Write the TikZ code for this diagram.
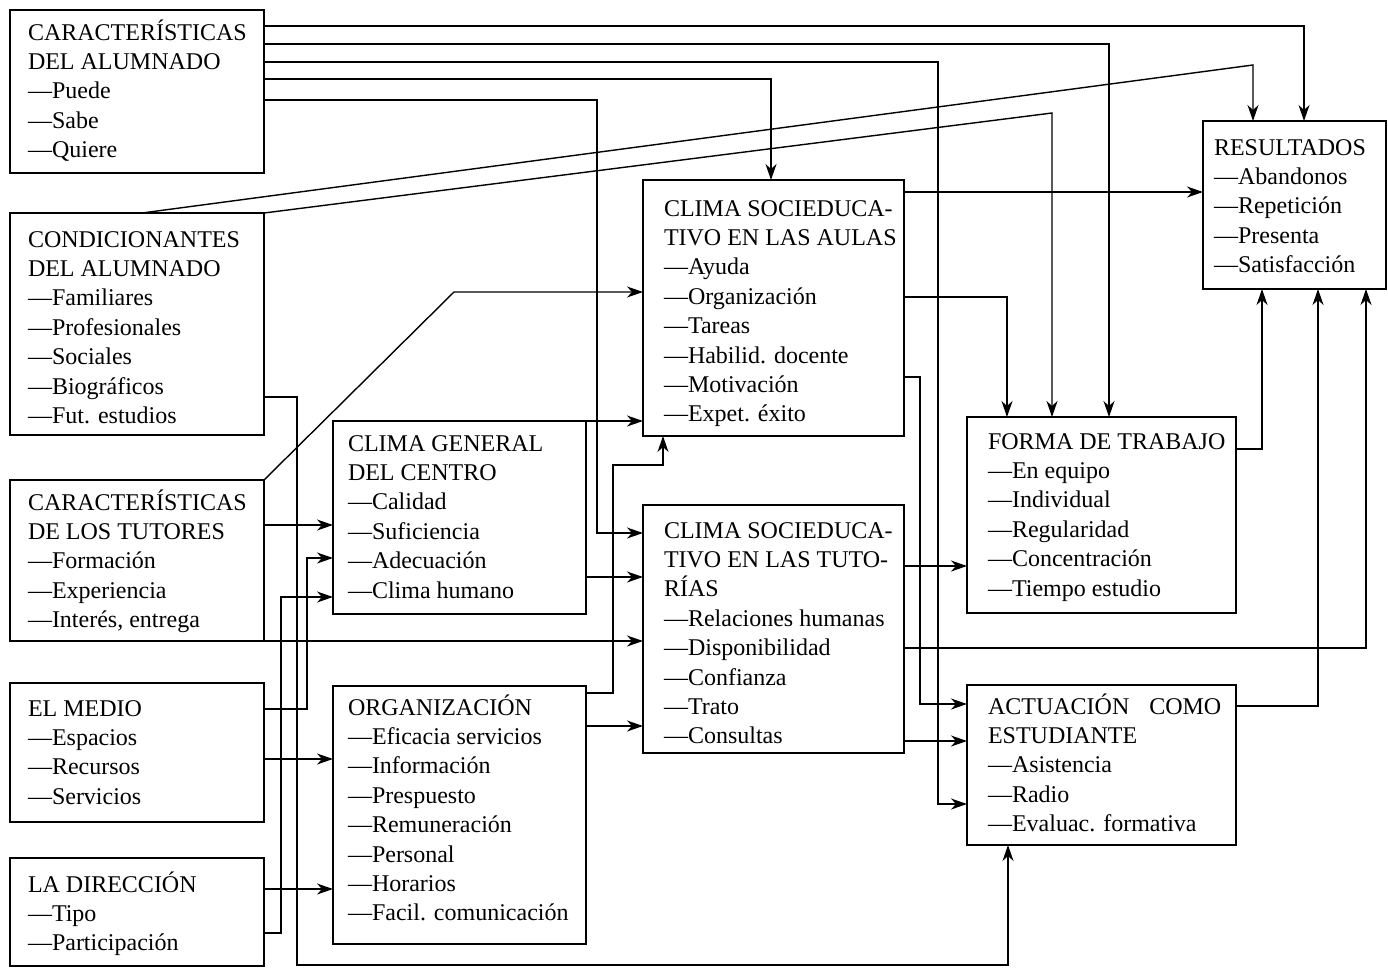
\documentclass[tikz,border=0pt]{standalone}
\usepackage{fontspec}
\setmainfont{Liberation Serif}
\usetikzlibrary{arrows.meta}
\newcommand\boxtext[1]{\vtop{\baselineskip=29.4bp\lineskiplimit=-1000bp\lineskip=0bp\halign{##\hfil\cr#1\crcr}}}
\begin{document}
\begin{tikzpicture}[x=1bp,y=-1bp,
  box/.style={draw,line width=2.7bp,inner sep=0pt,outer sep=0pt,anchor=north west},
  txt/.style={inner sep=0pt,outer sep=0pt,anchor=base west,font=\fontsize{24bp}{29.4bp}\selectfont},
  conn/.style={line width=1.4bp},
  arr/.style={conn,-{Stealth[length=16bp,width=11bp,inset=5bp]}}]
\useasboundingbox[fill=white] (0,0) rectangle (1388,967);
% boxes
\node[box,minimum width=254bp,minimum height=163bp] (ca) at (10,10) {};
\node[box,minimum width=254bp,minimum height=222bp] (co) at (10,213) {};
\node[box,minimum width=254bp,minimum height=161bp] (ct) at (10,480) {};
\node[box,minimum width=254bp,minimum height=139bp] (em) at (10,683) {};
\node[box,minimum width=254bp,minimum height=108bp] (ld) at (10,858) {};
\node[box,minimum width=253bp,minimum height=193bp] (cg) at (333,421) {};
\node[box,minimum width=253bp,minimum height=258bp] (org) at (333,686) {};
\node[box,minimum width=261bp,minimum height=256bp] (csa) at (643,180) {};
\node[box,minimum width=261bp,minimum height=248bp] (cst) at (643,505) {};
\node[box,minimum width=269bp,minimum height=196bp] (ft) at (967,417) {};
\node[box,minimum width=269bp,minimum height=160bp] (ae) at (967,685) {};
\node[box,minimum width=183bp,minimum height=168bp] (res) at (1203,121) {};
% texts
\node[txt] (ca-t) at (28,40) {\boxtext{CARACTERÍSTICAS\cr DEL ALUMNADO\cr —Puede\cr —Sabe\cr —Quiere}};
\node[txt] (co-t) at (28,247) {\boxtext{CONDICIONANTES\cr DEL ALUMNADO\cr —Familiares\cr —Profesionales\cr —Sociales\cr —Biográficos\cr —Fut. estudios}};
\node[txt] (ct-t) at (28,510) {\boxtext{CARACTERÍSTICAS\cr DE LOS TUTORES\cr —Formación\cr —Experiencia\cr —Interés, entrega}};
\node[txt] (em-t) at (28,716) {\boxtext{EL MEDIO\cr —Espacios\cr —Recursos\cr —Servicios}};
\node[txt] (ld-t) at (28,892) {\boxtext{LA DIRECCIÓN\cr —Tipo\cr —Participación}};
\node[txt] (cg-t) at (348,451) {\boxtext{CLIMA GENERAL\cr DEL CENTRO\cr —Calidad\cr —Suficiencia\cr —Adecuación\cr —Clima humano}};
\node[txt] (org-t) at (348,715) {\boxtext{ORGANIZACIÓN\cr —Eficacia servicios\cr —Información\cr —Prespuesto\cr —Remuneración\cr —Personal\cr —Horarios\cr —Facil. comunicación}};
\node[txt] (csa-t) at (664,216) {\boxtext{CLIMA SOCIEDUCA-\cr TIVO EN LAS AULAS\cr —Ayuda\cr —Organización\cr —Tareas\cr —Habilid. docente\cr —Motivación\cr —Expet. éxito}};
\node[txt] (cst-t) at (664,538) {\boxtext{CLIMA SOCIEDUCA-\cr TIVO EN LAS TUTO-\cr RÍAS\cr —Relaciones humanas\cr —Disponibilidad\cr —Confianza\cr —Trato\cr —Consultas}};
\node[txt] (ft-t) at (988,449) {\boxtext{FORMA DE TRABAJO\cr —En equipo\cr —Individual\cr —Regularidad\cr —Concentración\cr —Tiempo estudio}};
\node[txt] (ae-t) at (988,714) {\boxtext{ACTUACIÓN\hspace{20bp}COMO\cr ESTUDIANTE\cr —Asistencia\cr —Radio\cr —Evaluac. formativa}};
\node[txt] (res-t) at (1214,155) {\boxtext{RESULTADOS\cr —Abandonos\cr —Repetición\cr —Presenta\cr —Satisfacción}};
% connectors from CA
\draw[arr] (ca.east |- 0,26) -| (res.north -| 1304,0);
\draw[arr] (ca.east |- 0,44) -| (ft.north -| 1109,0);
\draw[arr] (ca.east |- 0,62) -| (938,804) -- (ae.west |- 0,804);
\draw[arr] (ca.east |- 0,79) -| (csa.north -| 771,0);
\draw[arr] (ca.east |- 0,100) -| (597,533) -- (cst.west |- 0,533);
% from CO
\draw[arr] (co.north -| 142,0) -- (1253,65) -- (res.north -| 1253,0);
\draw[arr] (co.north east) -- (1052,113) -- (ft.north -| 1052,0);
\draw[arr] (co.east |- 0,397) -| (297,965) -| (ae.south -| 1008,0);
% from CT
\draw[arr] (ct.north east) -- (454,292) -- (csa.west |- 0,292);
\draw[arr] (ct.east |- 0,525) -- (cg.west |- 0,525);
\draw[arr] (ct.south east) -- (cst.west |- ct.south east);
% from EM and LD
\draw[arr] (em.east |- 0,709) -| (307,558) -- (cg.west |- 0,558);
\draw[arr] (em.east |- 0,759) -- (org.west |- 0,759);
\draw[arr] (ld.east |- 0,889) -- (org.west |- 0,889);
\draw[arr] (ld.east |- 0,933) -| (281,597) -- (cg.west |- 0,597);
% from CG and ORG
\draw[arr] (cg.north east) -- (csa.west |- cg.north east);
\draw[arr] (cg.east |- 0,577) -- (cst.west |- 0,577);
\draw[arr] (org.east |- 0,693) -| (613,465) -| (csa.south -| 663,0);
\draw[arr] (org.east |- 0,726) -- (cst.west |- 0,726);
% from CSA
\draw[arr] (csa.east |- 0,192) -- (res.west |- 0,192);
\draw[arr] (csa.east |- 0,297) -| (ft.north -| 1007,0);
\draw[arr] (csa.east |- 0,377) -| (920,704) -- (ae.west |- 0,704);
% from CST
\draw[arr] (cst.east |- 0,566) -- (ft.west |- 0,566);
\draw[arr] (cst.east |- 0,648) -| (res.south -| 1366,0);
\draw[arr] (cst.east |- 0,741) -- (ae.west |- 0,741);
% to RES
\draw[arr] (ft.east |- 0,449) -| (res.south -| 1262,0);
\draw[arr] (ae.east |- 0,706) -| (res.south -| 1318,0);
\end{tikzpicture}
\end{document}
